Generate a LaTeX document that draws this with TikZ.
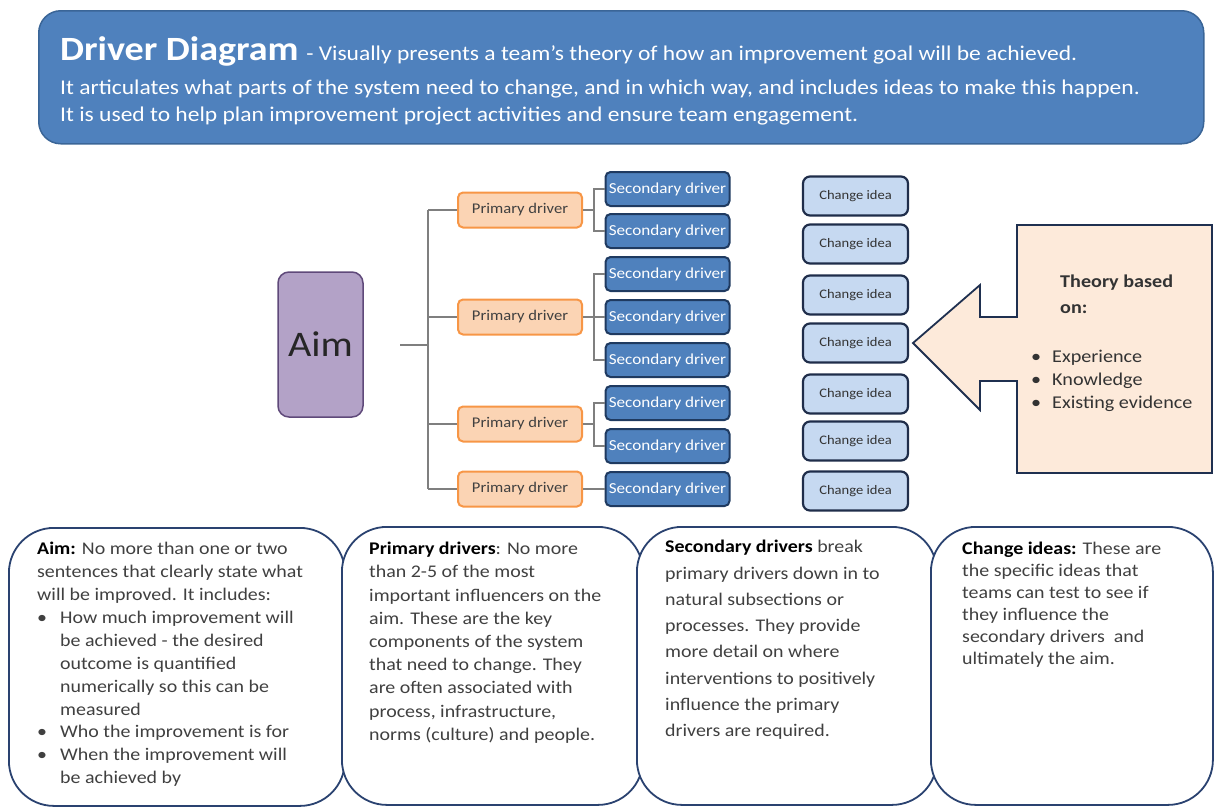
\documentclass[tikz,border=0pt]{standalone}
\usepackage{fontspec}
\setmainfont{Carlito}[FakeStretch=1.12]
\usetikzlibrary{calc}

\definecolor{hdrblue}{HTML}{4F81BD}
\definecolor{hdrline}{HTML}{3A6597}
\definecolor{aimfill}{HTML}{B3A2C7}
\definecolor{aimline}{HTML}{5F497A}
\definecolor{prifill}{HTML}{FBD4B4}
\definecolor{priline}{HTML}{F79646}
\definecolor{secfill}{HTML}{4F81BD}
\definecolor{secline}{HTML}{1F3A60}
\definecolor{chgfill}{HTML}{C6D9F1}
\definecolor{chgline}{HTML}{1F2D4A}
\definecolor{callfill}{HTML}{FDEADA}
\definecolor{callline}{HTML}{1F3050}
\definecolor{boxline}{HTML}{2A4270}
\definecolor{wirec}{HTML}{7F7F7F}
\definecolor{bodytext}{HTML}{404040}

\begin{document}
\begin{tikzpicture}[x=1pt,y=-1pt,
  hdr/.style={draw=hdrline, line width=1.5pt, fill=hdrblue, rounded corners=22pt,
    minimum width=1165pt, minimum height=133pt, inner sep=0pt, anchor=north west},
  hdrtext/.style={anchor=base west, inner sep=0pt, text=white},
  aimbox/.style={draw=aimline, line width=1.5pt, fill=aimfill, rounded corners=11pt,
    minimum width=85pt, minimum height=145pt, inner sep=0pt,
    font=\fontsize{36}{40}\selectfont, text=black!85},
  pribox/.style={draw=priline, line width=2pt, fill=prifill, rounded corners=5pt,
    minimum width=124pt, minimum height=35pt, inner sep=0pt,
    font=\fontsize{14.8}{16}\selectfont, text=black!75},
  secbox/.style={draw=secline, line width=2pt, fill=secfill, rounded corners=5pt,
    minimum width=124pt, minimum height=34pt, inner sep=0pt,
    font=\fontsize{15.3}{16}\selectfont, text=white},
  chgbox/.style={draw=chgline, line width=2.2pt, fill=chgfill, rounded corners=7pt,
    minimum width=105pt, minimum height=39pt, inner sep=0pt,
    font=\fontsize{13}{15}\selectfont, text=black!80},
  wire/.style={draw=wirec, line width=1.6pt},
  callout/.style={draw=callline, line width=1.8pt, fill=callfill},
  infobox/.style={draw=boxline, line width=1.8pt, fill=white, rounded corners=45pt,
    minimum height=278pt, inner sep=0pt, anchor=north west},
  infotext/.style={anchor=north west, inner sep=0pt, align=left, text=bodytext},
  theorytext/.style={anchor=base west, inner sep=0pt, text=black!80,
    font=\fontsize{18}{22}\selectfont}
]
\useasboundingbox (0,0) rectangle (1217,809);

% ---- header banner ----
\node[hdr] (header) at (38,10) {};
\node[hdrtext] (h1) at (60,60) {{\fontsize{34}{40}\selectfont\bfseries Driver Diagram}\hspace{5pt}
  {\fontsize{21}{25}\selectfont - Visually presents a team’s theory of how an improvement goal will be achieved.}};
\node[hdrtext, font=\fontsize{21}{25}\selectfont] (h2) at (60,94)
  {It articulates what parts of the system need to change, and in which way, and includes ideas to make this happen.};
\node[hdrtext, font=\fontsize{21}{25}\selectfont] (h3) at (60,121)
  {It is used to help plan improvement project activities and ensure team engagement.};

% ---- aim ----
\node[aimbox] (aim) at (320.5,344.5) {Aim};

% ---- primary drivers ----
\node[pribox] (p1) at (520,210) {Primary driver};
\node[pribox] (p2) at (520,317) {Primary driver};
\node[pribox] (p3) at (520,424) {Primary driver};
\node[pribox] (p4) at (520,489) {Primary driver};

% ---- secondary drivers ----
\foreach \i/\y in {1/189,2/231,3/274,4/317,5/360,6/403,7/446,8/489}
  \node[secbox] (s\i) at (667.5,\y) {Secondary driver};

% ---- change ideas ----
\foreach \i/\y in {1/196,2/244,3/295,4/343,5/394,6/441,7/491}
  \node[chgbox] (c\i) at (855.5,\y) {Change idea};

% ---- tree connectors ----
\coordinate (start) at (400,345);
\coordinate (trunk) at (428,345);
\draw[wire] (start) -- (trunk);
\draw[wire] (p1.west -| trunk) -- (p4.west -| trunk);
\foreach \p in {p1,p2,p3,p4}
  \draw[wire] (\p.west -| trunk) -- (\p.west);

\draw[wire] (p1.east) -- ++(11,0);
\draw[wire] (s1.west) -| ($(p1.east)+(11,0)$) |- (s2.west);
\draw[wire] (p2.east) -- (s4.west);
\draw[wire] (s3.west) -| ($(p2.east)+(11,0)$) |- (s5.west);
\draw[wire] (p3.east) -- ++(11,0);
\draw[wire] (s6.west) -| ($(p3.east)+(11,0)$) |- (s7.west);
\draw[wire] (p4.east) -- (s8.west);

% ---- theory callout ----
\draw[callout] (1017,225) -- (1212,225) -- (1212,473) -- (1017,473) -- (1017,381)
  -- (980,381) -- (980,410) -- (913,343) -- (980,285) -- (980,317) -- (1017,317) -- cycle;
\node[theorytext] (th1) at (1060,287) {\bfseries Theory based};
\node[theorytext] (th2) at (1060,313) {\bfseries on:};
\node[theorytext] (tb1) at (1031,362) {\textbullet\hspace{11pt}Experience};
\node[theorytext] (tb2) at (1031,385) {\textbullet\hspace{11pt}Knowledge};
\node[theorytext] (tb3) at (1031,408) {\textbullet\hspace{11pt}Existing evidence};

% ---- explanation panels ----
\node[infobox, minimum width=336pt] (b1) at (8,527) {};
\node[infobox, minimum width=301pt] (b2) at (341,526) {};
\node[infobox, minimum width=300pt] (b3) at (636,526) {};
\node[infobox, minimum width=282pt] (b4) at (930,526) {};

\node[infotext, font=\fontsize{17.8}{22.9}\selectfont] (t1) at (37,542) {%
  \textcolor{black}{\bfseries Aim:} No more than one or two\\
  sentences that clearly state what\\
  will be improved. It includes:\\
  \makebox[23pt][l]{\textbullet}How much improvement will\\
  \hspace*{23pt}be achieved - the desired\\
  \hspace*{23pt}outcome is quantified\\
  \hspace*{23pt}numerically so this can be\\
  \hspace*{23pt}measured\\
  \makebox[23pt][l]{\textbullet}Who the improvement is for\\
  \makebox[23pt][l]{\textbullet}When the improvement will\\
  \hspace*{23pt}be achieved by};

\node[infotext, font=\fontsize{17.8}{23.2}\selectfont] (t2) at (369,542) {%
  \textcolor{black}{\bfseries Primary drivers}: No more\\
  than 2-5 of the most\\
  important influencers on the\\
  aim. These are the key\\
  components of the system\\
  that need to change. They\\
  are often associated with\\
  process, infrastructure,\\
  norms (culture) and people.};

\node[infotext, font=\fontsize{17.8}{26.3}\selectfont] (t3) at (665,540) {%
  \textcolor{black}{\bfseries Secondary drivers} break\\
  primary drivers down in to\\
  natural subsections or\\
  processes. They provide\\
  more detail on where\\
  interventions to positively\\
  influence the primary\\
  drivers are required.};

\node[infotext, font=\fontsize{17.8}{22}\selectfont] (t4) at (962,542) {%
  \textcolor{black}{\bfseries Change ideas:} These are\\
  the specific ideas that\\
  teams can test to see if\\
  they influence the\\
  secondary drivers\ \ and\\
  ultimately the aim.};
\end{tikzpicture}
\end{document}
